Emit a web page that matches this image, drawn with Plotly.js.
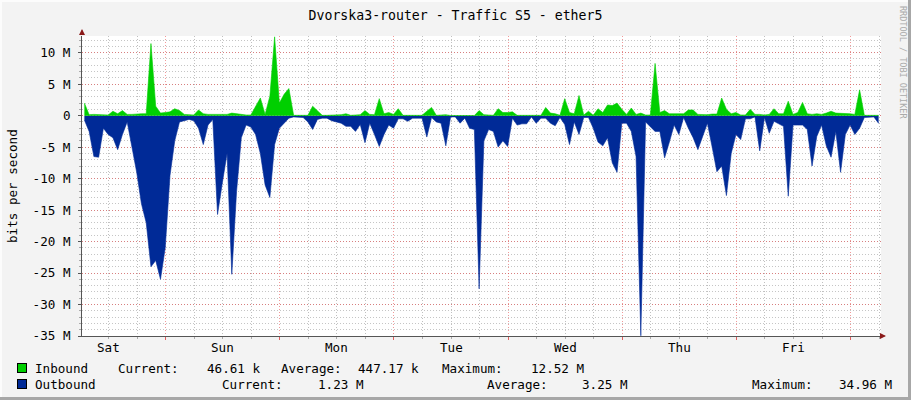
<!DOCTYPE html>
<html>
<head>
<meta charset="utf-8">
<script src="https://cdn.plot.ly/plotly-3.0.1.min.js"></script>
<style>
  html, body { margin: 0; padding: 0; background: #f3f3f3; }
  #wrap { position: relative; width: 911px; height: 400px; overflow: hidden; }
  #chart { position: absolute; left: 0; top: 0; width: 911px; height: 400px; }
  #bR { position: absolute; right: 0; top: 0; width: 3px; height: 400px; background: #a7a7a7; }
  #bB { position: absolute; left: 0; bottom: 0; width: 911px; height: 3px; background: #a7a7a7; }
  #bL { position: absolute; left: 0; top: 0; width: 2px; height: 400px; background: #fcfcfc; }
  #bT { position: absolute; left: 0; top: 0; width: 911px; height: 2px; background: #fcfcfc; }
</style>
</head>
<body>
<div id="wrap"><div id="chart"></div><div id="bL"></div><div id="bT"></div><div id="bR"></div><div id="bB"></div></div>
<script>
// Hourly samples over one week (M bits/s). Time offset 0 = left edge of graph.
const inbound = [
  2.0,0.15,0.2,0.2,0.2,0.1,0.7,0.3,0.8,0.2,0.2,0.3,0.3,0.3,11.45,1.5,0.4,0.5,0.6,1.1,0.8,0.2,0.1,0.1,
  0.9,0.3,0.2,0.2,0.2,0.2,0.2,0.4,0.3,0.1,0.1,0.1,1.5,2.8,0.2,3.1,12.52,2,3.4,4.3,0.05,0.05,0.05,0.05,
  1.5,0.7,0.05,0.05,0.05,0.1,0.15,0.3,0.05,0.1,0.15,0.8,0.2,0.15,2.7,0.3,0.5,0.2,1.1,0.05,0.05,0.05,0.05,0.05,
  0.7,1.3,0.05,0.05,0.15,0.02,0.02,0.02,0.02,0.02,0.02,0.8,0.15,0.1,0.05,1.1,0.5,0.5,0.6,0.05,0.05,0.05,0.05,0.05,
  0.05,1.3,0.4,0.3,0.05,2.7,0.5,0.3,3.2,0.1,0.7,0.05,1.1,0.5,1.7,1.6,2,1,0.2,1.2,0.2,0.4,0.1,0.1,
  8.3,0.5,0.8,0.3,0.3,0.2,0.3,0.9,0.9,0.2,0.15,0.15,0.25,0.25,2.8,1,0.3,0.5,0.1,0.1,1,0.2,0.2,0.1,
  0.2,1.1,0.3,0.3,2.3,0.2,0.5,2.1,0.3,0.2,0.3,0.2,0.4,0.7,0.4,0.4,0.4,0.3,0.2,4.1,0.05,0.05,0.05,0.047
];
const outbound = [
  0.7,2.5,6.5,6.6,2,3,3.5,5.4,3,1,5,9,14,17,24,23,26,21,9.5,4,1,0.8,0.6,0.8,
  2,4.6,1.5,0.6,15.7,10.7,6,25.2,12,3.5,1.5,1.8,3,6,11,13,4.6,2,1.2,0.4,0.2,0.2,0.3,1,
  2.2,0.6,0.4,0.4,0.8,1,1.2,1.7,1.7,2.5,1.4,4.3,1.2,3,4.9,3,1.5,2,0.5,0.5,0.9,0.4,0.4,0.4,
  3.4,0.3,1,1.2,4.8,0.2,0.2,1.2,0.4,2,2.2,27.5,4,2.2,2.5,5,4,4.9,0.4,1.5,1.3,1.3,0.2,1.2,
  0.4,0.4,1.2,1.6,0.3,1.4,4.6,1,3,0.3,0.3,2,4.2,4.8,3.5,7.5,9,1.2,1.2,2.5,6.5,34.96,1,1.7,
  2.5,2.5,6.7,4.2,1.5,3,0.3,2,3.5,5.4,3.3,1.2,5,8.9,8,12.7,6,3,3.8,0.5,0.5,0.2,5.6,0.3,
  2.8,0.9,1.3,1.7,12.8,1.5,1.5,1.5,2.2,8,3.3,1.5,4.8,6.6,2.5,9,3,1.5,3,2,0.3,0.2,0.2,1.23
];
const days = ['Sat','Sun','Mon','Tue','Wed','Thu','Fri'];
const firstMidnight = 17.6; // hours from left edge
const yTickVals = [10,5,0,-5,-10,-15,-20,-25,-30,-35];
const yTickText = ['10 M','5 M','0','-5 M','-10 M','-15 M','-20 M','-25 M','-30 M','-35 M'];

const hours = inbound.map((_, i) => i + 0.5);
const outNeg = outbound.map(v => -v);

const MONO = 'DejaVu Sans Mono';
const FS = 12.6;
const L = 82, R = 881, T = 36, B = 336;
const px = x => (x - L) / (R - L);
const py = y => (B - y) / (B - T);

const traces = [
  { x: hours, y: outNeg, type: 'scatter', mode: 'lines', fill: 'tozeroy',
    line: { color: '#002A97', width: 0.6 }, fillcolor: '#002A97', hoverinfo: 'skip', showlegend: false },
  { x: hours, y: inbound, type: 'scatter', mode: 'lines', fill: 'tozeroy',
    line: { color: '#00CF00', width: 0.6 }, fillcolor: '#00CF00', hoverinfo: 'skip', showlegend: false }
];

const ann = [];
days.forEach((d, k) => {
  ann.push({ x: firstMidnight - 12 + 24 * k, y: py(347), xref: 'x', yref: 'paper', text: d,
    showarrow: false, xanchor: 'center', yanchor: 'middle', font: { family: MONO, size: FS, color: '#000' } });
});
ann.push({ x: px(12), y: 0.5, xref: 'paper', yref: 'paper', text: 'bits per second', textangle: -90,
  showarrow: false, xanchor: 'center', yanchor: 'middle', font: { family: MONO, size: FS, color: '#000' } });
ann.push({ x: px(903), y: py(62), xref: 'paper', yref: 'paper', text: 'RRDTOOL / TOBI OETIKER', textangle: 90,
  showarrow: false, xanchor: 'center', yanchor: 'middle', font: { family: MONO, size: 8.5, color: '#aaaaaa' } });

// legend
const legendRows = [
  { y: 368, color: '#00CF00', items: [[33,'Inbound'],[116,'Current:'],[204.5,'46.61 k'],[279,'Average:'],[355.5,'447.17 k'],[440,'Maximum:'],[529,'12.52 M']] },
  { y: 384, color: '#002A97', items: [[33,'Outbound'],[219.5,'Current:'],[316,'1.23 M'],[485,'Average:'],[580,'3.25 M'],[749.5,'Maximum:'],[837,'34.96 M']] }
];
legendRows.forEach(r => {
  ann.push({ x: px(17), y: py(r.y), xref: 'paper', yref: 'paper', text: ' ', showarrow: false,
    xanchor: 'left', yanchor: 'middle', width: 8, height: 8, bgcolor: r.color, bordercolor: '#000', borderwidth: 1, borderpad: 0,
    font: { family: MONO, size: 6 } });
  r.items.forEach(([xx, t]) => {
    ann.push({ x: px(xx), y: py(r.y), xref: 'paper', yref: 'paper', text: t, showarrow: false,
      xanchor: 'left', yanchor: 'middle', font: { family: MONO, size: FS, color: '#000' } });
  });
});
// axis arrows
ann.push({ x: px(886), y: 0, xref: 'paper', yref: 'paper', text: '', showarrow: true, arrowhead: 2, arrowsize: 1,
  arrowwidth: 1.2, arrowcolor: '#8b1a1a', ax: -6, ay: 0 });
ann.push({ x: 0, y: py(29), xref: 'paper', yref: 'paper', text: '', showarrow: true, arrowhead: 2, arrowsize: 1,
  arrowwidth: 1.2, arrowcolor: '#8b1a1a', ax: 0, ay: 6 });

const layout = {
  width: 911, height: 400,
  margin: { l: L, r: 911 - R, t: T, b: 400 - B, pad: 0 },
  paper_bgcolor: '#f3f3f3', plot_bgcolor: '#ffffff',
  font: { family: MONO, size: FS, color: '#000' },
  title: { text: 'Dvorska3-router - Traffic S5 - ether5', x: 0.5, xanchor: 'center', y: 1 - 15 / 400, yanchor: 'middle',
    font: { family: MONO, size: 13.2, color: '#000' } },
  showlegend: false,
  xaxis: {
    range: [0, 168], tickmode: 'linear', tick0: firstMidnight, dtick: 24,
    showticklabels: false, ticks: 'outside', ticklen: 3, tickcolor: '#e06060',
    showgrid: true, gridcolor: 'rgba(230,70,70,0.55)', griddash: '1px,2px', gridwidth: 1,
    minor: { tickmode: 'linear', tick0: firstMidnight, dtick: 6, showgrid: true, gridcolor: 'rgba(140,140,140,0.55)',
      griddash: '1px,2px', gridwidth: 1, ticks: 'outside', ticklen: 2, tickcolor: '#aaa' },
    showline: true, linecolor: '#555', linewidth: 1, zeroline: false, fixedrange: true
  },
  yaxis: {
    range: [-35, 12.65], tickmode: 'array', tickvals: yTickVals, ticktext: yTickText,
    ticks: 'outside', ticklen: 3, tickcolor: '#555', ticklabelstandoff: 5,
    showgrid: true, gridcolor: 'rgba(230,70,70,0.55)', griddash: '1px,2px', gridwidth: 1,
    minor: { tickmode: 'linear', tick0: 0, dtick: 1, showgrid: true, gridcolor: 'rgba(140,140,140,0.5)',
      griddash: '1px,2px', gridwidth: 1, ticks: 'outside', ticklen: 2, tickcolor: '#aaa' },
    showline: true, linecolor: '#555', linewidth: 1, zeroline: false, fixedrange: true,
    tickfont: { family: MONO, size: FS, color: '#000' }
  },
  annotations: ann
};

Plotly.newPlot('chart', traces, layout, { staticPlot: true, displayModeBar: false });
</script>
</body>
</html>
